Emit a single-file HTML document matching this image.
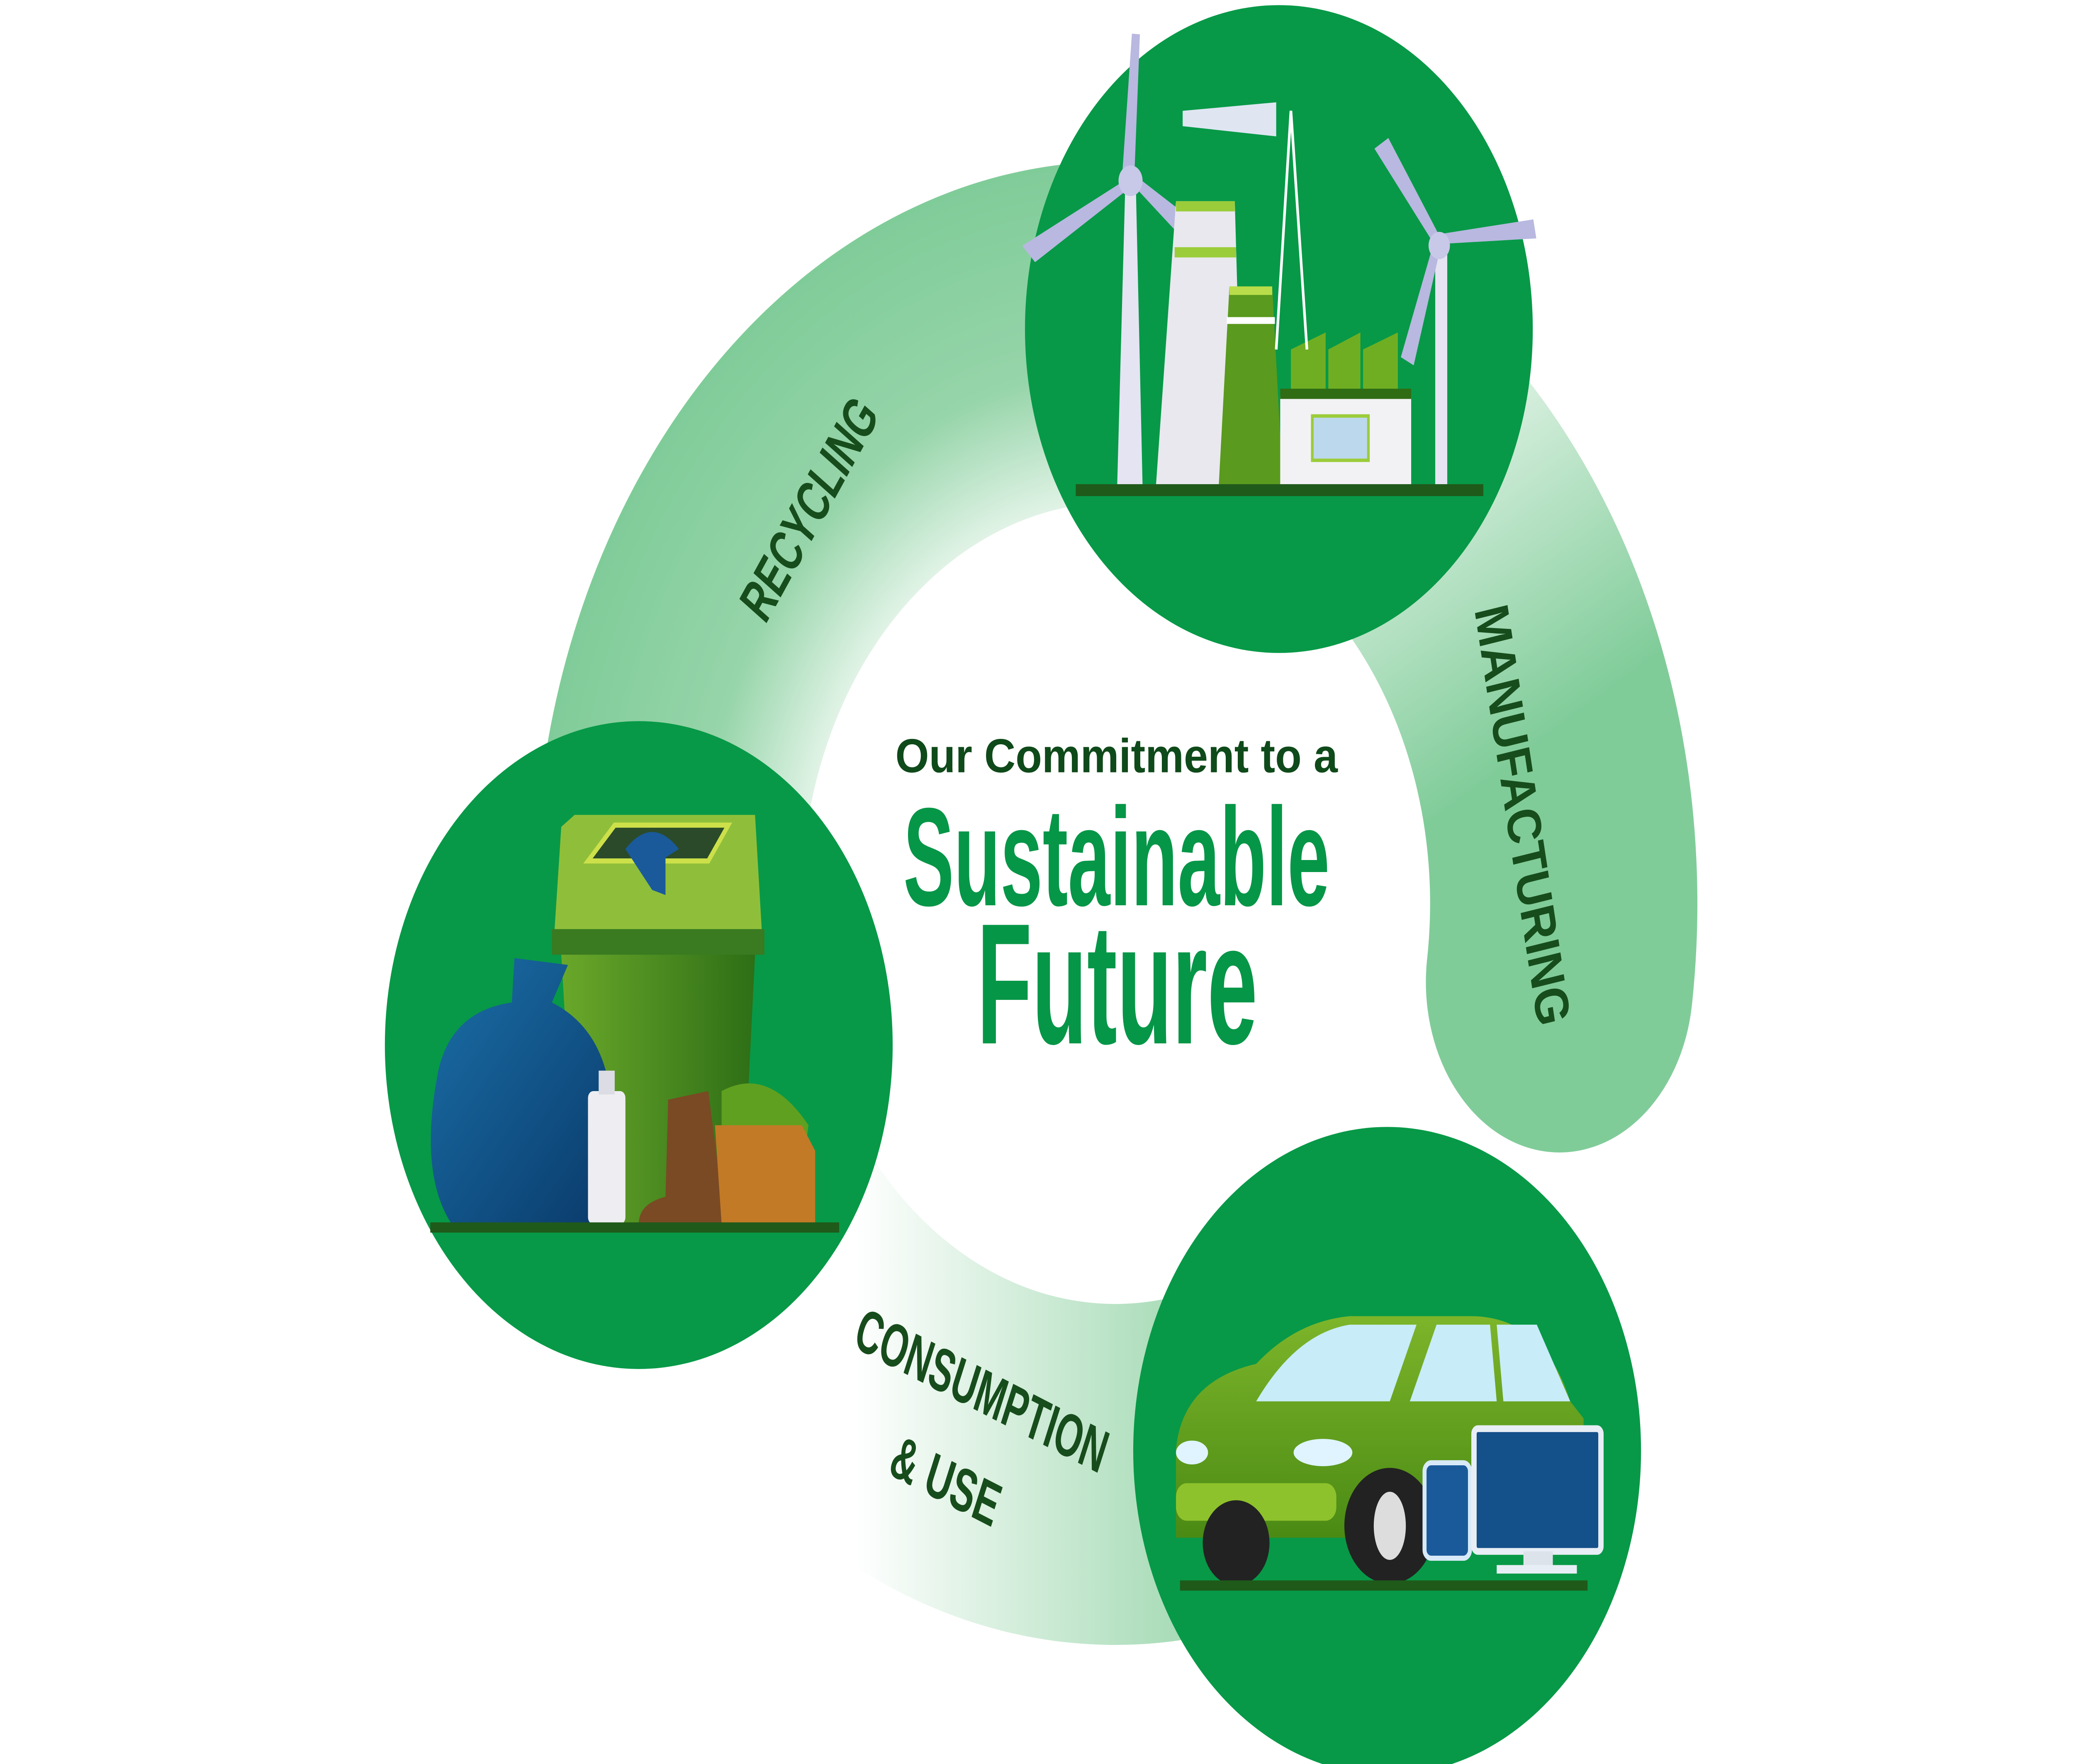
<!DOCTYPE html>
<html><head><meta charset="utf-8"><style>
html,body{margin:0;padding:0;background:#fff;overflow:hidden;width:100%;height:100%;}
svg{display:block;position:fixed;left:0;top:0;width:100vw;height:100vh;}
text{font-family:"Liberation Sans Narrow","Liberation Sans",sans-serif;font-weight:bold;}
</style></head><body>
<svg viewBox="0 0 1552 1034.7" preserveAspectRatio="none" xmlns="http://www.w3.org/2000/svg">
<defs>
<radialGradient id="rg" cx="835" cy="530" r="435" gradientUnits="userSpaceOnUse">
<stop offset="0.54" stop-color="#f2faf4"/><stop offset="0.72" stop-color="#9ad6ac"/><stop offset="1" stop-color="#80cc99"/>
</radialGradient>
<linearGradient id="cg" x1="640" y1="0" x2="880" y2="0" gradientUnits="userSpaceOnUse">
<stop offset="0" stop-color="#ffffff"/><stop offset="1" stop-color="#a9dcb8"/>
</linearGradient>
<linearGradient id="mg" x1="1050" y1="240" x2="1160" y2="430" gradientUnits="userSpaceOnUse">
<stop offset="0" stop-color="#e6f5ea"/><stop offset="1" stop-color="#80cc99"/>
</linearGradient>
<linearGradient id="bag" x1="0" y1="0" x2="1" y2="1"><stop offset="0" stop-color="#1a6fa8"/><stop offset="1" stop-color="#0a3a6a"/></linearGradient>
<linearGradient id="bin" x1="0" y1="0" x2="1" y2="0"><stop offset="0" stop-color="#6aa82a"/><stop offset="1" stop-color="#2e6e16"/></linearGradient>
<linearGradient id="car" x1="0" y1="0" x2="0" y2="1"><stop offset="0" stop-color="#7db52a"/><stop offset="1" stop-color="#4a8a14"/></linearGradient>
</defs>
<path d="M 520 645 A 335 335 0 0 1 864 196" fill="none" stroke="#80cc99" stroke-width="200"/>
<path d="M 520 645 A 335 335 0 0 1 864 196" fill="none" stroke="url(#rg)" stroke-width="200" opacity="0.85"/>
<path d="M 893 200 A 335 335 0 0 1 1167 576" fill="none" stroke="url(#mg)" stroke-width="200" stroke-linecap="round"/>
<path d="M 1027 804 A 335 335 0 0 1 511 617" fill="none" stroke="url(#cg)" stroke-width="200"/>
<circle cx="957" cy="193" r="190" fill="#079947"/>
<circle cx="478" cy="613" r="190" fill="#079947"/>
<circle cx="1038" cy="851" r="190" fill="#079947"/>
<polygon points="842,110 850,110 855,285 836,285" fill="#e4e4f2"/>
<polygon points="843,100 850,20 846,100" fill="#b8b8e0" stroke="#b8b8e0" stroke-width="6"/>
<polygon points="840,110 770,145 775,150" fill="#b8b8e0" stroke="#b8b8e0" stroke-width="6"/>
<polygon points="852,108 880,125 878,130" fill="#b8b8e0" stroke="#b8b8e0" stroke-width="6"/>
<circle cx="846" cy="106" r="9" fill="#c8c8e8"/>
<polygon points="880,118 924,118 930,285 865,285" fill="#e8e8ee"/>
<rect x="880" y="118" width="44" height="6" fill="#9bcc3a"/>
<rect x="879" y="145" width="46" height="6" fill="#9bcc3a"/>
<polygon points="920,168 952,168 960,285 912,285" fill="#5a9a1e"/>
<rect x="920" y="168" width="32" height="5" fill="#b9dd4a"/>
<rect x="918" y="186" width="36" height="4" fill="#fff"/>
<rect x="958" y="232" width="98" height="53" fill="#f2f2f5"/>
<polygon points="966,232 966,205 992,195 992,232" fill="#6fae22"/>
<polygon points="994,232 994,205 1018,195 1018,232" fill="#6fae22"/>
<polygon points="1020,232 1020,205 1046,195 1046,232" fill="#6fae22"/>
<rect x="958" y="228" width="98" height="6" fill="#2f6c14"/>
<rect x="982" y="244" width="42" height="26" fill="#bcd8ec" stroke="#9bcc3a" stroke-width="2"/>
<polyline points="955,205 966,65 978,205" fill="none" stroke="#fff" stroke-width="2"/>
<polygon points="885,65 955,60 955,80 885,74" fill="#dfe6f2"/>
<rect x="1074" y="148" width="9" height="137" fill="#e4e4f2"/>
<polygon points="1076,142 1033,88 1038,85" fill="#b8b8e0" stroke="#b8b8e0" stroke-width="6"/>
<polygon points="1080,140 1145,132 1146,137" fill="#b8b8e0" stroke="#b8b8e0" stroke-width="6"/>
<polygon points="1074,148 1052,208 1056,210" fill="#b8b8e0" stroke="#b8b8e0" stroke-width="6"/>
<circle cx="1077" cy="144" r="8" fill="#c8c8e8"/>
<rect x="805" y="284" width="305" height="7" fill="#1f5a1a"/>
<polygon points="420,485 430,478 565,478 570,545 415,545" fill="#8fbf3a"/>
<polygon points="440,505 460,484 545,484 530,505" fill="#2a4a2a" stroke="#cde04a" stroke-width="3"/>
<path d="M468,498 q20,-20 40,0 l-10,5 l0,22 l-10,-3 z" fill="#1a5a9a"/>
<rect x="413" y="545" width="159" height="15" fill="#3a7a20"/>
<polygon points="420,560 565,560 555,718 432,718" fill="url(#bin)"/>
<path d="M385,562 l40,4 l-12,22 q45,18 45,70 q10,55 -20,60 l-100,0 q-25,-30 -10,-90 q10,-35 55,-40 z" fill="url(#bag)"/>
<rect x="440" y="640" width="28" height="78" rx="4" fill="#eeeef2"/>
<rect x="448" y="628" width="12" height="14" fill="#dcdce4"/>
<path d="M500,645 l30,-5 l10,60 l0,18 l-62,0 q0,-12 20,-16 z" fill="#7a4a24"/>
<path d="M540,640 q35,-15 65,20 l-5,30 l-60,0 z" fill="#5fa020"/>
<polygon points="535,660 600,660 610,675 610,718 540,718" fill="#c27a26"/>
<rect x="322" y="717" width="306" height="6" fill="#1f5a1a"/>
<path d="M880,850 q5,-40 60,-50 q30,-25 70,-28 l90,0 q55,0 75,50 l10,10 l0,70 l-305,0 z" fill="url(#car)"/>
<path d="M940,822 q30,-40 70,-45 l50,0 l-20,45 z" fill="#c8ecf8"/>
<path d="M1055,822 l20,-45 l40,0 l5,45 z" fill="#c8ecf8"/>
<path d="M1125,822 l-5,-45 l30,0 l25,45 z" fill="#c8ecf8"/>
<rect x="880" y="870" width="120" height="22" rx="8" fill="#8ec22c"/>
<ellipse cx="892" cy="852" rx="12" ry="7" fill="#dff4ff"/>
<ellipse cx="990" cy="852" rx="22" ry="8" fill="#dff4ff"/>
<circle cx="925" cy="905" r="25" fill="#222"/>
<circle cx="1040" cy="895" r="34" fill="#222"/>
<ellipse cx="1040" cy="895" rx="12" ry="20" fill="#ddd"/>
<rect x="1066" y="858" width="34" height="56" rx="5" fill="#1a5a9a" stroke="#d8eaf8" stroke-width="3"/>
<rect x="1103" y="838" width="95" height="72" rx="3" fill="#14508a" stroke="#e8eef5" stroke-width="4"/>
<rect x="1140" y="910" width="22" height="10" fill="#dde3ea"/>
<rect x="1120" y="918" width="60" height="5" fill="#e8eef5"/>
<rect x="883" y="927" width="305" height="6" fill="#1f5a1a"/>
<text x="605" y="311" font-size="36" fill="#174d1c" text-anchor="middle" textLength="150" lengthAdjust="spacingAndGlyphs" transform="rotate(-55 605 298)">RECYCLING</text>
<text x="1140" y="491" font-size="36" fill="#174d1c" text-anchor="middle" textLength="250" lengthAdjust="spacingAndGlyphs" transform="rotate(79 1140 478)">MANUFACTURING</text>
<text x="735" y="828" font-size="36" fill="#174d1c" text-anchor="middle" textLength="200" lengthAdjust="spacingAndGlyphs" transform="rotate(22 735 815)">CONSUMPTION</text>
<text x="708" y="881" font-size="36" fill="#174d1c" text-anchor="middle" textLength="85" lengthAdjust="spacingAndGlyphs" transform="rotate(22 708 868)">&amp; USE</text>
<text x="670" y="453" font-size="28" fill="#0f4a1a" textLength="331" lengthAdjust="spacingAndGlyphs" style="font-family:'Liberation Sans',sans-serif">Our Commitment to a</text>
<text x="676" y="531" font-size="82" fill="#069647" textLength="319" lengthAdjust="spacingAndGlyphs">Sustainable</text>
<text x="731" y="612" font-size="101" fill="#069647" textLength="210" lengthAdjust="spacingAndGlyphs">Future</text>
</svg>
</body></html>
